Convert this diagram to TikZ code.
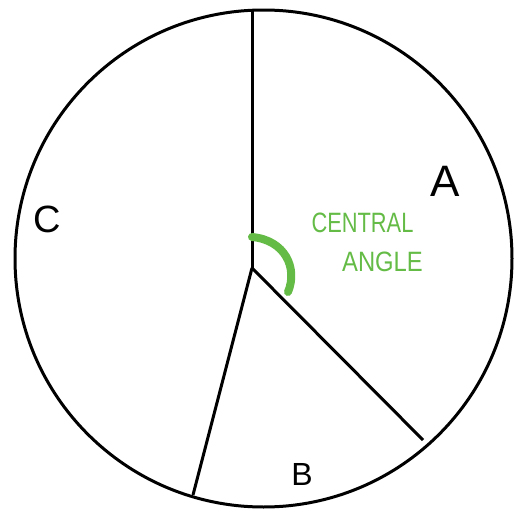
\documentclass[tikz,border=0pt]{standalone}
\usepackage{fontspec}
\setmainfont{Liberation Sans}
\usepackage{graphicx}

\definecolor{anglegreen}{RGB}{100,187,70}

\begin{document}
\begin{tikzpicture}[x=1pt, y=-1pt, line width=3pt, every node/.style={inner sep=0pt}, slicelabel/.style={font=\fontsize{38}{38}\selectfont}, greenlabel/.style={text=anglegreen, font=\fontsize{28}{28}\selectfont}]

\useasboundingbox (0,0) rectangle (515,514);

% pie outline and slices
\draw (263.5,258.5) circle [radius=248.5pt];

\coordinate (hub) at (252,268);
\coordinate (rimtop) at (252,11);
\coordinate (rimright) at (423,440);
\coordinate (rimleft) at (193,495);

\draw (rimtop) -- (hub);
\draw (hub) -- (rimright);
\draw (hub) -- (rimleft);

% central angle mark
\draw[anglegreen, line width=8pt, line cap=round] (252,237) .. controls (285,240) and (298,268) .. (288,292);

\node[slicelabel, font=\fontsize{44}{44}\selectfont] (labelA) at (445,181) {A};
\node[slicelabel, font=\fontsize{32}{32}\selectfont] (labelB) at (302,474) {B};
\node[slicelabel] (labelC) at (47,219) {C};

\node[greenlabel] (central) at (362.5,222.5) {\scalebox{0.78}[1]{CENTRAL}};
\node[greenlabel] (angle) at (382.5,261.5) {\scalebox{0.85}[1]{ANGLE}};

\end{tikzpicture}
\end{document}
